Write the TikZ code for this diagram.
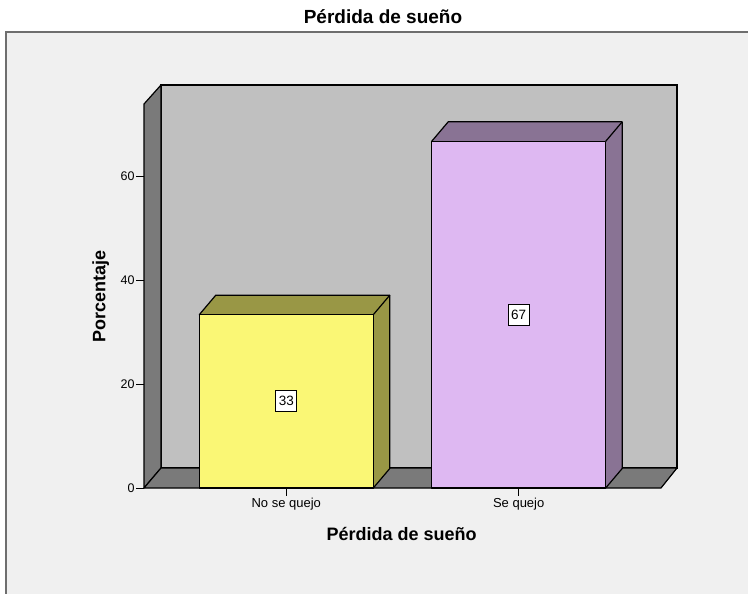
\documentclass[tikz,border=0pt]{standalone}
\usepackage{fontspec}
\setmainfont{Liberation Sans}
\usepackage{tikz}
\usetikzlibrary{positioning,calc}
\definecolor{chartbg}{RGB}{240,240,240}
\definecolor{framegray}{RGB}{110,110,110}
\definecolor{wallgray}{RGB}{192,192,192}
\definecolor{darkwall}{RGB}{122,122,122}
\definecolor{yelfront}{RGB}{250,247,117}
\definecolor{yelside}{RGB}{153,151,69}
\definecolor{lilfront}{RGB}{222,184,242}
\definecolor{lilside}{RGB}{137,115,148}
\tikzset{
  title/.style     = {font=\fontsize{19}{22}\selectfont\bfseries, anchor=base},
  axistitle/.style = {font=\fontsize{18}{21}\selectfont\bfseries},
  ticklab/.style   = {font=\fontsize{12.5}{14}\selectfont, inner sep=1pt},
  catlab/.style    = {font=\fontsize{13}{15}\selectfont, inner sep=2pt},
  backwall/.style  = {fill=wallgray, draw=black, line width=1.2pt},
  sidewall/.style  = {fill=darkwall, draw=black, line width=1.2pt, line join=round},
  bar/.style       = {draw=black, line width=1.2pt, line join=round},
  valbox/.style    = {draw=black, fill=white, line width=0.8pt, inner sep=2pt,
                      minimum width=21pt, minimum height=21pt,
                      font=\fontsize{13.5}{15}\selectfont},
  tick/.style      = {draw=black, line width=1pt}
}

\begin{document}
\begin{tikzpicture}[x=1pt,y=-1pt]
  \useasboundingbox (0,0) rectangle (748,594);
  % title and frame
  \node[title] (title) at (383,24) {Pérdida de sueño};
  \fill[chartbg] (6,32) rectangle (748,594);
  \draw[framegray, line width=2pt] (6,594) -- (6,32) -- (748,32);
  % walls and floor
  \draw[backwall] (161,85) rectangle (677,468);
  \draw[sidewall] (144,104) -- (161,85) -- (161,468) -- (144,488) -- cycle;
  \draw[sidewall] (144,488) -- (161,468) -- (677,468) -- (661,488) -- cycle;
  % y ticks
  \foreach \v in {0,20,40,60}
    \draw[tick] (144,{488-5.2*\v}) -- ++(-8,0) node[left, ticklab] (t\v) {\v};
  % bars
  \foreach \x/\h/\front/\side/\val/\name [count=\i] in
      {199.3/33.33/yelfront/yelside/33/No se quejo,
       431.7/66.67/lilfront/lilside/67/Se quejo}{
    \pgfmathsetmacro\top{488-5.2*\h}
    \pgfmathsetmacro\r{\x+174}
    \draw[bar, fill=\side] (\x,\top) -- ++(16.5,-19.5) -- ++(174,0)
      -- ++(0,{5.2*\h}) -- (\r,488) -- cycle;
    \draw[bar] (\r,\top) -- ++(16.5,-19.5);
    \draw[bar, fill=\front] (\x,\top) rectangle (\r,488);
    \node[valbox] (v\i) at ({\x+87},{488-2.6*\h}) {\val};
    \draw[tick] ({\x+87},488) -- ++(0,8) node[below, catlab] (c\i) {\name};
  }
  % axis titles
  \node[axistitle, rotate=90] (ylab) at (100.7,296.5) {Porcentaje};
  \node[axistitle, anchor=base] (xlab) at (401.7,540.7) {Pérdida de sueño};
\end{tikzpicture}
\end{document}
